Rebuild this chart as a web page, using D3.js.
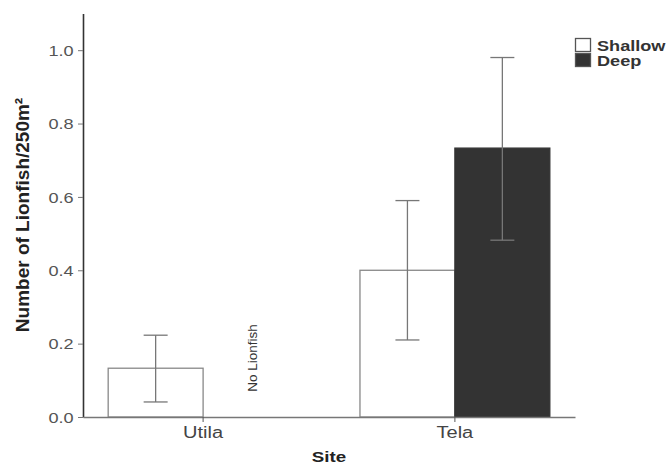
<!DOCTYPE html>
<html>
<head>
<meta charset="utf-8">
<script src="https://cdn.jsdelivr.net/npm/d3@7"></script>
<style>
    body { margin: 0; background: #fff; }
    text { font-family: "Liberation Sans", Arial, sans-serif; }
</style>
</head>
<body>
<div id="chart"></div>
<script>
// Lionfish density by site and depth, bars with error bars

const SITES = ['Utila', 'Tela'];
const DEPTHS = ['Shallow', 'Deep'];
const MEANS = { Utila: [0.133, 0], Tela: [0.40, 0.733] };
const ERR_LOW = { Utila: [0.041, null], Tela: [0.21, 0.482] };
const ERR_HIGH = { Utila: [0.223, null], Tela: [0.59, 0.98] };
const Y_TICKS = [0, 0.2, 0.4, 0.6, 0.8, 1.0];

(function () {
    const W = 666, H = 468;
    const SX = 1.25; // the source picture is stretched sideways
    const svg = d3.select('#chart').append('svg').attr('width', W).attr('height', H);

    const x = d3.scaleBand().domain(SITES).range([83, 575]).paddingInner(0.246).paddingOuter(0.1);
    const xs = d3.scaleBand().domain(DEPTHS).range([0, x.bandwidth()]);
    const y = d3.scaleLinear().domain([0, 1.1]).range([417, 13.5]);

    const fill = { Shallow: '#ffffff', Deep: '#333333' };

    // bars
    const rows = [];
    SITES.forEach(s => DEPTHS.forEach((d, i) => rows.push({ site: s, depth: d, v: MEANS[s][i], lo: ERR_LOW[s][i], hi: ERR_HIGH[s][i] })));

    svg.append('g').selectAll('rect').data(rows.filter(r => r.v > 0)).enter().append('rect')
        .attr('x', r => x(r.site) + xs(r.depth))
        .attr('y', r => y(r.v))
        .attr('width', xs.bandwidth())
        .attr('height', r => y(0) - y(r.v))
        .attr('fill', r => fill[r.depth])
        .attr('stroke', r => r.depth === 'Deep' ? '#333' : '#888')
        .attr('stroke-width', 1.3);

    // error bars
    const eb = svg.append('g').attr('stroke', '#777').attr('stroke-width', 1.3);
    rows.filter(r => r.lo != null).forEach(r => {
        const cx = x(r.site) + xs(r.depth) + xs.bandwidth() / 2;
        eb.append('line').attr('x1', cx).attr('x2', cx).attr('y1', y(r.lo)).attr('y2', y(r.hi));
        [r.lo, r.hi].forEach(v => eb.append('line').attr('x1', cx - 12).attr('x2', cx + 12).attr('y1', y(v)).attr('y2', y(v)));
    });

    // y axis
    const yAxis = d3.axisLeft(y).tickValues(Y_TICKS).tickFormat(d3.format('.1f')).tickSize(5).tickSizeOuter(0);
    const gy = svg.append('g').attr('transform', 'translate(83,0)').call(yAxis);
    gy.select('.domain').attr('stroke', '#333').attr('stroke-width', 1.6);
    gy.selectAll('.tick line').attr('stroke', '#777');
    gy.selectAll('.tick text').attr('fill', '#555').style('font-size', '14.5px')
        .attr('x', -7.5).attr('dy', '0.36em').attr('transform', `scale(${SX},1)`);

    // x axis
    const xAxis = d3.axisBottom(x).tickSize(5).tickSizeOuter(0);
    const gx = svg.append('g').attr('transform', 'translate(0,417)').call(xAxis);
    gx.select('.domain').attr('stroke', '#777').attr('stroke-width', 1.3);
    gx.selectAll('.tick line').attr('stroke', '#555');
    gx.selectAll('.tick text').attr('fill', '#444').style('font-size', '16px')
        .attr('y', 21).attr('dy', 0).attr('transform', `scale(${SX},1)`);

    // titles
    svg.append('text').attr('transform', `translate(329,462) scale(${SX},1)`).attr('text-anchor', 'middle')
        .style('font-size', '15px').style('font-weight', 'bold').attr('fill', '#222').text('Site');
    svg.append('text').attr('transform', 'translate(28.5,215) rotate(-90)').attr('text-anchor', 'middle')
        .style('font-size', '19px').style('font-weight', 'bold').attr('fill', '#222')
        .text('Number of Lionfish/250m²');

    // no lionfish note
    const noX = x('Utila') + xs('Deep') + xs.bandwidth() / 2 + 6;
    svg.append('text').attr('transform', `translate(${noX},358) rotate(-90)`).attr('text-anchor', 'middle')
        .style('font-size', '13.5px').attr('fill', '#333').text('No Lionfish');

    // legend
    const lg = svg.append('g').attr('transform', 'translate(575,38)');
    DEPTHS.forEach((d, i) => {
        lg.append('rect').attr('x', 0.5).attr('y', i * 15 + 0.5).attr('width', 15).attr('height', 13)
            .attr('fill', fill[d]).attr('stroke', '#555').attr('stroke-width', 1.3);
        lg.append('text').attr('transform', `translate(22,${i * 15 + 12.5}) scale(${SX},1)`)
            .style('font-size', '14.5px').style('font-weight', 'bold').attr('fill', '#333').text(d);
    });
})();
</script>
</body>
</html>
